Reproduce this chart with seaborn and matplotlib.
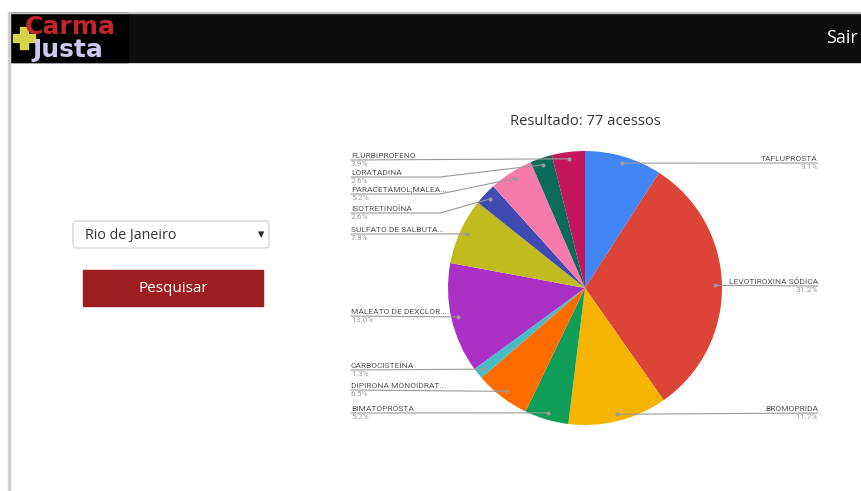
import numpy as np
import matplotlib
matplotlib.use("Agg")
import matplotlib.pyplot as plt
from matplotlib.patches import Rectangle, FancyBboxPatch
import seaborn as sns

# ---------------- data ----------------
categories = ["TAFLUPROSTA", "LEVOTIROXINA SÓDICA", "BROMOPRIDA", "BIMATOPROSTA",
              "DIPIRONA MONOIDRAT...", "CARBOCISTEÍNA", "MALEATO DE DEXCLOR...",
              "SULFATO DE SALBUTA...", "ISOTRETINOÍNA", "PARACETAMOL;MALEA...",
              "LORATADINA", "FLURBIPROFENO"]
counts = [7, 24, 9, 4, 5, 1, 10, 6, 2, 4, 2, 3]
slice_colors = ["#4285F4", "#DB4437", "#F4B400", "#0F9D58", "#FF6D01", "#46BDC6",
                "#AB30C4", "#C2BB1F", "#3F4BB0", "#F77BAA", "#0B6B58", "#C2185B"]
title_text = "Resultado: 77 acessos"
city = "Rio de Janeiro"
button_text = "Pesquisar"

# ---------------- layout ----------------
W, H = 862, 491
cx, cy, R = 585, 288, 137
label_side = ["R", "R", "R", "L", "L", "L", "L", "L", "L", "L", "L", "L"]
label_line_y = [163, 286, 413, 413, 390, 370, 316, 234, 213, 194, 177, 160]
LEFT_X, RIGHT_X, KNEE_X = 351, 818, 440

sns.set_theme(style="white")
plt.rcParams["font.family"] = ["Roboto", "DejaVu Sans"]

fig = plt.figure(figsize=(W / 100, H / 100), dpi=100)
ax = fig.add_axes([0, 0, 1, 1])
ax.set_xlim(0, W)
ax.set_ylim(H, 0)
ax.axis("off")

# ---------------- page chrome ----------------
ax.add_patch(Rectangle((10, 13), W - 10, 49, color="#0e0e0e", zorder=1))
ax.add_patch(Rectangle((10, 13), 118, 49, color="#000000", zorder=2))
ax.plot([9, 9], [13, H], color="#cfcfcf", lw=2.5, zorder=2)
ax.plot([9, W], [13, 13], color="#bdbdbd", lw=1, zorder=3)
# logo
ax.add_patch(Rectangle((13, 34), 22, 8, color="#d8d24a", zorder=3))
ax.add_patch(Rectangle((20, 27), 8, 22, color="#d8d24a", zorder=3))
ax.text(25, 27, "Carma", color="#c0272d", fontsize=18, fontweight="bold",
        family=["DejaVu Sans"], va="center", ha="left", zorder=4)
ax.text(32, 50, "Justa", color="#c9c9f2", fontsize=18, fontweight="bold",
        family=["DejaVu Sans"], va="center", ha="left", zorder=4)
ax.text(858, 38, "Sair", color="white", fontsize=13, family=["Open Sans", "DejaVu Sans"],
        va="center", ha="right", zorder=4)

# dropdown
ax.add_patch(FancyBboxPatch((73, 221), 196, 27, boxstyle="round,pad=0,rounding_size=4",
                            fc="white", ec="#d6d6d6", lw=1, zorder=3))
ax.text(85, 235, city, fontsize=10.3, color="#333333", family=["Open Sans", "DejaVu Sans"],
        va="center", ha="left", zorder=4)
ax.text(261, 235, "▾", fontsize=9, color="#222222", family=["DejaVu Sans"],
        va="center", ha="center", zorder=4)
# button
ax.add_patch(Rectangle((83, 270), 180, 36, color="#9d1e22", zorder=3))
ax.text(173, 288, button_text, fontsize=11, color="white", family=["Open Sans", "DejaVu Sans"],
        va="center", ha="center", zorder=4)

# title
ax.text(cx, 121, title_text, fontsize=10.6, color="#333333",
        family=["Open Sans", "DejaVu Sans"], va="center", ha="center", zorder=4)

# ---------------- pie ----------------
ax.pie(counts, colors=slice_colors, center=(cx, cy), radius=R, startangle=-90,
       counterclock=True, wedgeprops=dict(linewidth=0), frame=True)
ax.set_xlim(0, W)
ax.set_ylim(H, 0)
ax.set_aspect("auto")
ax.axis("off")

# ---------------- labels and leader lines ----------------
total = sum(counts)
cum = np.cumsum([0] + counts)
FS = 6.0
for i, (name, v) in enumerate(zip(categories, counts)):
    mid = (cum[i] + v / 2) / total * 2 * np.pi
    dx = cx + 0.95 * R * np.sin(mid)
    dy = cy - 0.95 * R * np.cos(mid)
    ly = label_line_y[i]
    pct = f"{100 * v / total:.1f}%"
    if label_side[i] == "R":
        xs, ys = [dx, RIGHT_X], [dy, ly]
        if abs(dy - ly) > 1.5:
            xs, ys = [dx, dx + 20, RIGHT_X], [dy, ly, ly]
        ha, tx = "right", RIGHT_X
    else:
        if abs(dy - ly) > 1.5:
            xs, ys = [LEFT_X, KNEE_X, dx], [ly, ly, dy]
        else:
            xs, ys = [LEFT_X, dx], [ly, dy]
        ha, tx = "left", LEFT_X
    ax.plot(xs, ys, color="#9a9a9a", lw=0.8, zorder=5)
    ax.text(tx, ly - 1.0, name, fontsize=FS, color="#555555", ha=ha,
            va="bottom", zorder=6)
    ax.text(tx, ly + 0.8, pct, fontsize=FS, color="#9e9e9e", ha=ha,
            va="top", zorder=6)
    ax.plot(dx, dy, "o", ms=2, color="#9a9a9a", zorder=6)

fig.savefig("out.png", dpi=100, facecolor="white")
